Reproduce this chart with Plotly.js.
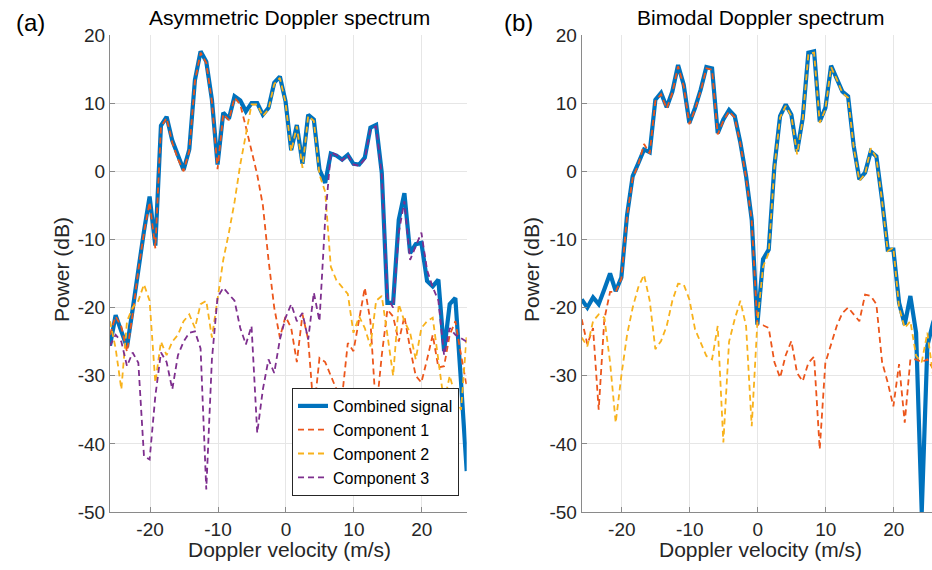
<!DOCTYPE html>
<html>
<head>
<meta charset="utf-8">
<script src="https://cdn.plot.ly/plotly-3.0.1.min.js"></script>
<style>html,body{margin:0;padding:0;background:#fff;}#chart{width:932px;height:570px;}</style>
</head>
<body>
<div id="chart"></div>
<script>
// Doppler velocity grid (m/s)
const velocity = [-25.90,-25.07,-24.23,-23.40,-22.57,-21.73,-20.90,-20.07,-19.23,-18.40,
  -17.57,-16.73,-15.90,-15.07,-14.23,-13.40,-12.57,-11.73,-10.90,-10.07,
  -9.23,-8.40,-7.57,-6.73,-5.90,-5.07,-4.23,-3.40,-2.57,-1.73,
  -0.90,-0.07,0.77,1.60,2.43,3.27,4.10,4.93,5.77,6.60,
  7.43,8.27,9.10,9.93,10.77,11.60,12.43,13.27,14.10,14.93,
  15.77,16.60,17.43,18.27,19.10,19.93,20.77,21.60,22.43,23.27,
  24.10,24.93,25.77,26.60];

// (a) Asymmetric Doppler spectrum, power in dB
const asymCombined = [-25.6,-21.1,-23.5,-25.8,-20.3,-14.2,-8.8,-3.7,-10.9,6.7,
  8.0,4.5,2.2,0.2,3.2,13.4,17.6,16.1,10.5,1.0,
  8.6,7.7,11.0,10.4,8.8,10.0,10.0,8.3,9.3,13.0,
  13.9,10.3,3.1,6.8,1.1,8.3,7.6,0.25,-1.7,2.6,
  2.3,1.7,2.4,1.1,1.0,2.0,6.4,6.8,-0.2,-19.3,
  -19.3,-7.1,-3.2,-12.0,-10.7,-10.5,-16.1,-16.9,-15.9,-26.4,
  -19.5,-18.6,-31.0,-44.0];
const asymComp1 = [-24.0,-21.3,-22.8,-26.5,-21.0,-14.5,-9.0,-4.5,-11.3,6.5,
  7.8,4.2,1.8,0.0,3.0,13.2,17.4,15.9,10.2,0.3,
  8.4,7.5,10.8,9.8,6.5,3.0,-0.5,-5.0,-13.0,-20.0,
  -24.4,-21.3,-23.0,-28.0,-21.0,-24.7,-35.4,-27.4,-28.0,-30.0,
  -32.0,-33.0,-25.2,-26.4,-22.0,-17.1,-22.0,-35.4,-27.0,-20.3,
  -21.3,-25.0,-21.3,-26.0,-30.0,-31.0,-27.6,-24.0,-28.8,-28.6,
  -24.0,-22.0,-27.0,-31.5];
const asymComp2 = [-22.0,-26.0,-32.0,-22.0,-20.0,-19.0,-16.6,-19.0,-31.0,-25.0,
  -27.0,-25.0,-24.0,-22.0,-21.0,-23.0,-19.5,-19.0,-24.4,-18.5,
  -13.0,-9.0,-4.5,1.0,5.5,9.8,9.8,8.1,9.1,12.8,
  13.7,10.1,2.9,6.6,0.5,8.1,7.4,-0.5,-3.0,-14.0,
  -16.0,-17.0,-18.0,-23.7,-21.3,-23.0,-25.7,-19.0,-18.3,-24.0,
  -30.0,-19.5,-22.0,-23.7,-27.6,-23.0,-22.0,-21.5,-28.0,-34.0,
  -30.0,-33.0,-35.0,-24.0];
const asymComp3 = [-25.6,-24.0,-25.0,-28.6,-26.6,-28.1,-41.8,-42.3,-33.0,-26.6,
  -28.0,-32.0,-27.0,-25.0,-23.7,-23.5,-26.0,-46.7,-27.6,-18.5,
  -17.1,-18.0,-19.0,-23.0,-25.4,-22.7,-38.4,-32.0,-27.6,-29.6,
  -24.7,-21.5,-19.5,-22.0,-20.8,-24.7,-17.8,-22.0,-7.0,2.8,
  2.4,1.6,2.4,1.0,0.8,1.8,6.2,6.6,-0.6,-18.5,
  -20.0,-9.0,-4.4,-13.0,-11.0,-9.0,-14.5,-17.0,-19.0,-27.0,
  -23.0,-24.0,-24.5,-25.0];

// (b) Bimodal Doppler spectrum, power in dB
const bimCombined = [-18.8,-20.0,-18.5,-19.5,-17.3,-15.0,-17.6,-15.6,-6.4,-0.7,
  1.2,3.2,2.8,10.5,11.5,9.4,11.7,15.6,12.7,7.1,
  9.3,12.0,15.3,15.1,5.6,7.6,9.0,8.1,4.2,-0.7,
  -7.1,-22.5,-12.9,-11.5,0.7,8.1,9.8,8.3,2.9,7.8,
  17.4,17.6,7.3,9.3,15.5,13.7,11.7,11.0,3.7,-1.2,
  -0.2,2.9,2.2,-4.2,-11.5,-11.5,-19.3,-22.5,-18.3,-23.7,
  -50.0,-25.6,-22.2,-20.0];
const bimComp1 = [-21.7,-25.4,-23.0,-35.0,-21.7,-17.7,-17.7,-15.8,-6.6,-1.0,
  1.0,4.0,2.6,10.3,11.3,9.2,11.5,15.4,12.5,6.9,
  9.1,11.8,15.1,14.9,5.4,7.4,8.8,7.9,4.0,-0.9,
  -7.3,-22.5,-22.6,-23.0,-28.0,-30.3,-27.0,-24.9,-29.6,-30.8,
  -28.1,-27.2,-40.8,-28.1,-25.4,-22.7,-20.8,-20.0,-21.0,-22.0,
  -18.1,-18.3,-19.5,-28.0,-31.0,-34.5,-28.3,-36.9,-27.6,-27.6,
  -28.0,-27.6,-29.0,-30.0];
const bimComp2 = [-24.4,-25.7,-22.0,-21.0,-21.5,-28.0,-36.9,-30.0,-24.0,-20.0,
  -17.0,-15.2,-19.0,-26.1,-24.9,-22.7,-19.0,-16.5,-16.6,-18.8,
  -23.2,-25.2,-27.1,-27.6,-22.7,-39.8,-25.0,-21.7,-19.0,-22.7,
  -37.4,-22.2,-14.0,-12.0,0.5,7.9,9.6,8.1,2.5,7.6,
  17.2,17.4,7.1,9.1,15.3,13.5,11.5,10.8,3.5,-1.4,
  -0.4,3.4,2.0,-4.4,-11.7,-11.2,-20.0,-23.0,-22.0,-27.1,
  -28.0,-23.7,-30.0,-30.0];

const seriesNames = ['Combined signal','Component 1','Component 2','Component 3'];
const seriesColors = ['#0072BD','#EC561B','#F8B21C','#7E2F8E'];
const xTickVals = [-20,-10,0,10,20];
const xTickText = ['-20','-10','0','10','20'];
const yTickVals = [-50,-40,-30,-20,-10,0,10,20];
const yTickText = ['-50','-40','-30','-20','-10','0','10','20'];

const W = 932, H = 570;
const px = v => v / W;
const py = v => 1 - v / H;

function line(y, idx, xa, ya, show) {
  const combined = idx === 0;
  return {
    x: velocity, y: y, type: 'scatter', mode: 'lines',
    name: seriesNames[idx], xaxis: xa, yaxis: ya, showlegend: show,
    line: {color: seriesColors[idx], width: combined ? 4.2 : 1.8, dash: combined ? 'solid' : '6px,4px'},
    hoverinfo: 'x+y+name'
  };
}

const traces = [
  line(asymCombined, 0, 'x', 'y', true),
  line(asymComp1, 1, 'x', 'y', true),
  line(asymComp2, 2, 'x', 'y', true),
  line(asymComp3, 3, 'x', 'y', true),
  line(bimCombined, 0, 'x2', 'y2', false),
  line(bimComp1, 1, 'x2', 'y2', false),
  line(bimComp2, 2, 'x2', 'y2', false)
];

const axisCommon = {
  showgrid: true, gridcolor: '#e6e6e6', gridwidth: 1, zeroline: false,
  showline: true, linecolor: '#8a8a8a', linewidth: 1,
  ticks: 'inside', ticklen: 5, tickcolor: '#8a8a8a',
  tickfont: {size: 19, color: '#262626'}, automargin: false
};
const yDomain = [(H - 512) / H, (H - 35) / H];

const layout = {
  width: W, height: H,
  margin: {l: 0, r: 0, t: 0, b: 0},
  paper_bgcolor: '#ffffff', plot_bgcolor: '#ffffff',
  font: {family: 'Liberation Sans, Arial, sans-serif', color: '#262626'},
  xaxis: Object.assign({}, axisCommon, {domain: [px(110), px(466.7)], range: [-25.9, 26.6], tickvals: xTickVals, ticktext: xTickText, anchor: 'y'}),
  yaxis: Object.assign({}, axisCommon, {domain: yDomain, range: [-50, 20], tickvals: yTickVals, ticktext: yTickText, anchor: 'x'}),
  xaxis2: Object.assign({}, axisCommon, {domain: [px(581.7), 1], range: [-25.9, 25.61], tickvals: xTickVals, ticktext: xTickText, anchor: 'y2'}),
  yaxis2: Object.assign({}, axisCommon, {domain: yDomain, range: [-50, 20], tickvals: yTickVals, ticktext: yTickText, anchor: 'x2'}),
  showlegend: true,
  legend: {
    x: px(459), y: py(496), xanchor: 'right', yanchor: 'bottom',
    bgcolor: '#ffffff', bordercolor: '#262626', borderwidth: 1,
    font: {size: 16, color: '#000000'}, tracegroupgap: 0
  },
  annotations: [
    {text: 'Asymmetric Doppler spectrum', x: px(289), y: py(18), font: {size: 21, color: '#000000'}},
    {text: 'Bimodal Doppler spectrum', x: px(760), y: py(18), font: {size: 21, color: '#000000'}},
    {text: '(a)', x: px(30), y: py(22), font: {size: 24, color: '#000000'}},
    {text: '(b)', x: px(518), y: py(22), font: {size: 24, color: '#000000'}},
    {text: 'Doppler velocity (m/s)', x: px(289), y: py(549), font: {size: 21, color: '#262626'}},
    {text: 'Doppler velocity (m/s)', x: px(760), y: py(549), font: {size: 21, color: '#262626'}},
    {text: 'Power (dB)', x: px(62), y: py(270), textangle: -90, font: {size: 21, color: '#262626'}},
    {text: 'Power (dB)', x: px(532), y: py(270), textangle: -90, font: {size: 21, color: '#262626'}}
  ].map(a => Object.assign({xref: 'paper', yref: 'paper', showarrow: false, xanchor: 'center', yanchor: 'middle'}, a))
};

Plotly.newPlot('chart', traces, layout, {displayModeBar: false, staticPlot: true});
</script>
</body>
</html>
